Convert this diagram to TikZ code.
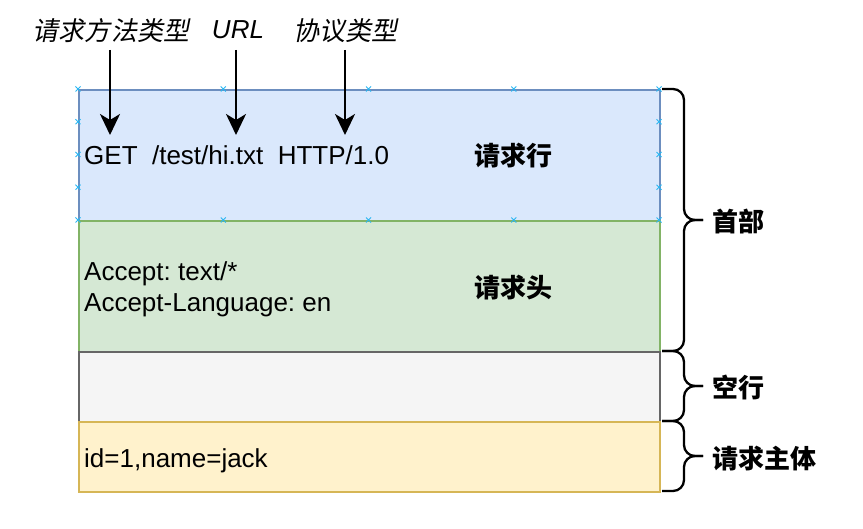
\documentclass[tikz,border=0pt]{standalone}
\usepackage{fontspec}
\setmainfont{Liberation Sans}
\newfontfamily\cjk{Noto Sans CJK SC}
\newfontfamily\cjkit{Noto Sans CJK SC}[FakeSlant=0.2]
\usetikzlibrary{arrows.meta,calc}
\definecolor{bluefill}{HTML}{DAE8FC}
\definecolor{bluedraw}{HTML}{6C8EBF}
\definecolor{greenfill}{HTML}{D5E8D4}
\definecolor{greendraw}{HTML}{82B366}
\definecolor{grayfill}{HTML}{F5F5F5}
\definecolor{graydraw}{HTML}{666666}
\definecolor{yellowfill}{HTML}{FFF2CC}
\definecolor{yellowdraw}{HTML}{D6B656}
\definecolor{markblue}{HTML}{29B6F2}
\frenchspacing
\begin{document}
\begin{tikzpicture}[x=1bp,y=-1bp,
  font=\fontsize{26bp}{31bp}\selectfont,
  box/.style={draw, line width=2bp, minimum width=581bp, inner sep=0pt, anchor=north west},
  txt/.style={inner sep=0pt, anchor=base west},
  ctxt/.style={inner sep=0pt, anchor=base},
  arr/.style={line width=2.2bp, -{Stealth[length=21bp,width=20bp,inset=6bp]}},
  bracepath/.style={line width=2.3bp, rounded corners=11bp},
  xmark/.style={draw=markblue, line width=0.9bp}]
\useasboundingbox (0,0) rectangle (863,529);

% boxes
\node[box, fill=bluefill, draw=bluedraw, minimum height=131bp] (line) at (78,89) {};
\node[box, fill=greenfill, draw=greendraw, minimum height=131bp] (head) at (78,220) {};
\node[box, fill=grayfill, draw=graydraw, minimum height=70bp] (blank) at (78,351) {};
\node[box, fill=yellowfill, draw=yellowdraw, minimum height=70bp] (body) at (78,421) {};

% selection marks on the first box
\foreach \px in {78,223.25,368.5,513.75,659}{
  \foreach \py in {89,220}{
    \draw[xmark] (\px-2.5,\py-2.5) -- (\px+2.5,\py+2.5) (\px-2.5,\py+2.5) -- (\px+2.5,\py-2.5);
  }
}
\foreach \px in {78,659}{
  \foreach \py in {121.75,154.5,187.25}{
    \draw[xmark] (\px-2.5,\py-2.5) -- (\px+2.5,\py+2.5) (\px-2.5,\py+2.5) -- (\px+2.5,\py-2.5);
  }
}

% box texts
\node[txt] (reqline) at (84,165) {GET\ \ /test/hi.txt\ \ HTTP/1.0};
\node[ctxt] (linelbl) at (513,166) {\cjk\bfseries 请求行};
\node[txt] (hdr1) at (84,281) {Accept: text/*};
\node[txt] (hdr2) at (84,312) {Accept-Language: en};
\node[ctxt] (headlbl) at (513,298) {\cjk\bfseries 请求头};
\node[txt] (bodytxt) at (84,467) {id=1,name=jack};

% top labels
\node[ctxt] (method) at (111,41) {\cjkit 请求方法类型};
\node[ctxt] (url) at (238,39) {\itshape URL};
\node[ctxt] (proto) at (345,41) {\cjkit 协议类型};

% arrow ends
\coordinate (t1) at (110,135);
\coordinate (t2) at (236,135);
\coordinate (t3) at (345,135);
\draw[arr] (t1 |- 0,50) -- (t1);
\draw[arr] (t2 |- 0,50) -- (t2);
\draw[arr] (t3 |- 0,50) -- (t3);

% braces
\draw[bracepath] (662,89) -- (684,89) -- (684,220) -- (703,220);
\draw[bracepath] (662,351) -- (684,351) -- (684,220) -- (703,220);
\draw[bracepath] (662,351) -- (684,351) -- (684,386) -- (703,386);
\draw[bracepath] (662,421) -- (684,421) -- (684,386) -- (703,386);
\draw[bracepath] (662,421) -- (684,421) -- (684,456) -- (703,456);
\draw[bracepath] (662,491) -- (684,491) -- (684,456) -- (703,456);

% brace labels
\node[txt] (headerlbl) at (712,232) {\cjk\bfseries 首部};
\node[txt] (blanklbl) at (712,397) {\cjk\bfseries 空行};
\node[txt] (bodylbl) at (712,468) {\cjk\bfseries 请求主体};
\end{tikzpicture}
\end{document}
